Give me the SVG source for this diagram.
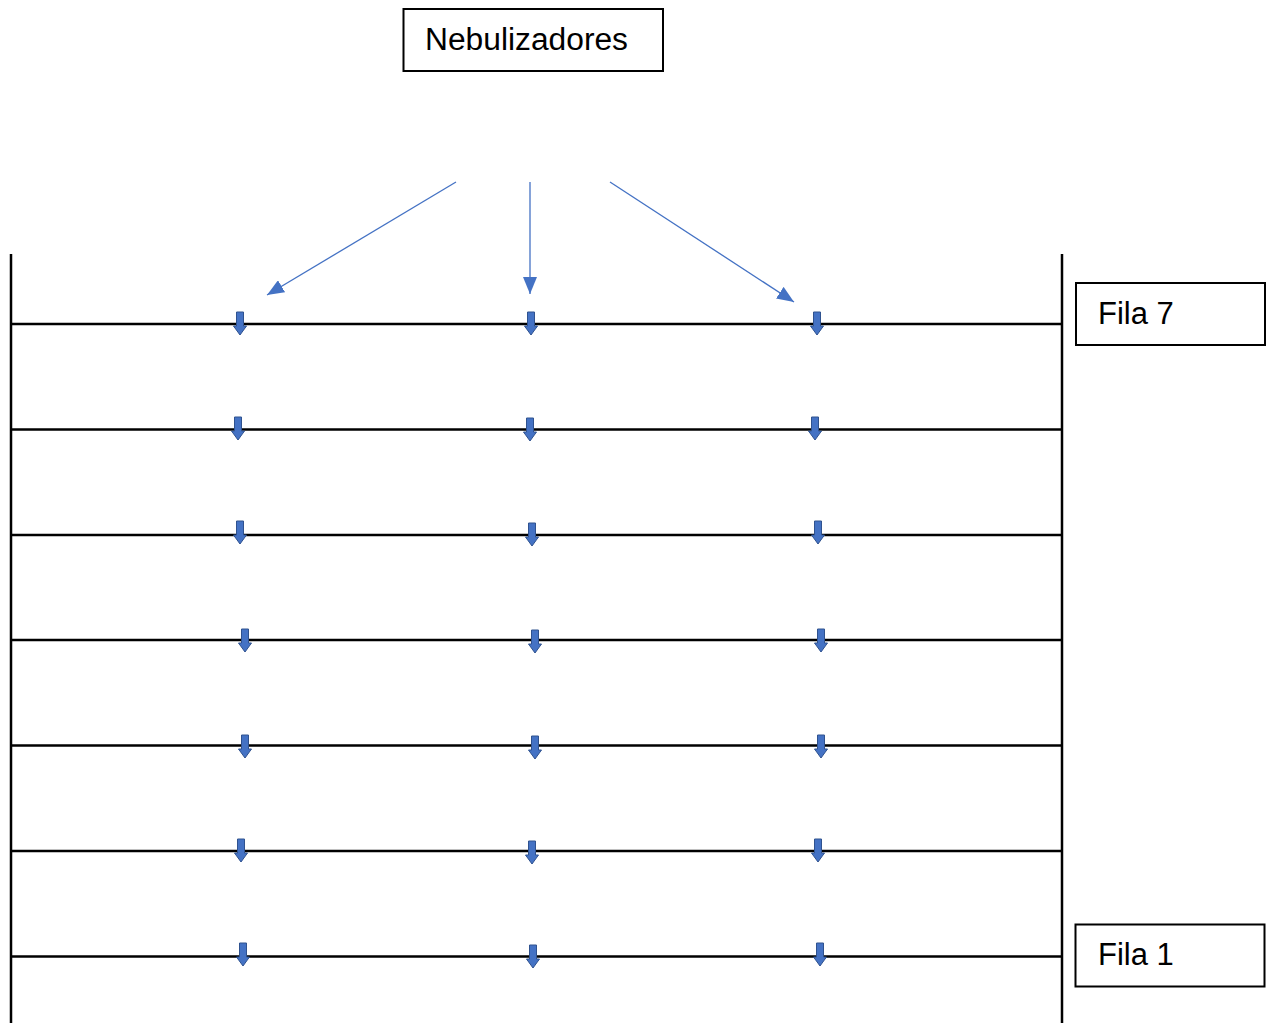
<svg xmlns="http://www.w3.org/2000/svg" width="1272" height="1023" viewBox="0 0 1272 1023">
<style>
.box{fill:#fff;stroke:#000;stroke-width:2}
.lbl{font-family:"Liberation Sans",Arial,sans-serif;font-size:31px;fill:#000}
.wall{stroke:#000;stroke-width:2.5;fill:none}
.row{stroke:#000;stroke-width:2.5;fill:none}
.conn{stroke:#4472C4;stroke-width:1.3;fill:none;marker-end:url(#ah)}
.drop{fill:#4472C4;stroke:#2F528F;stroke-width:1}
</style>
<defs>
<marker id="ah" markerUnits="userSpaceOnUse" markerWidth="18" markerHeight="14" refX="17" refY="7" orient="auto">
<path d="M0,0 L17,7 L0,14 z" fill="#4472C4"/>
</marker>
<path id="blk" d="M-3.5,-12 L3.5,-12 L3.5,2 L6.5,2 L0,11 L-6.5,2 L-3.5,2 z"/>
</defs>
<rect width="1272" height="1023" fill="#fff"/>
<g id="structure">
<line class="wall" x1="11" y1="254" x2="11" y2="1023"/>
<line class="wall" x1="1062" y1="254" x2="1062" y2="1023"/>
<line class="row" x1="11" y1="324" x2="1062" y2="324"/>
<line class="row" x1="11" y1="429.5" x2="1062" y2="429.5"/>
<line class="row" x1="11" y1="535" x2="1062" y2="535"/>
<line class="row" x1="11" y1="640" x2="1062" y2="640"/>
<line class="row" x1="11" y1="745.5" x2="1062" y2="745.5"/>
<line class="row" x1="11" y1="851" x2="1062" y2="851"/>
<line class="row" x1="11" y1="956.5" x2="1062" y2="956.5"/>
</g>
<g id="drops">
<use href="#blk" class="drop" x="240" y="324"/>
<use href="#blk" class="drop" x="531" y="324"/>
<use href="#blk" class="drop" x="817" y="324"/>
<use href="#blk" class="drop" x="238" y="429"/>
<use href="#blk" class="drop" x="530" y="430"/>
<use href="#blk" class="drop" x="815" y="429"/>
<use href="#blk" class="drop" x="240" y="533"/>
<use href="#blk" class="drop" x="532" y="535"/>
<use href="#blk" class="drop" x="818" y="533"/>
<use href="#blk" class="drop" x="245" y="641"/>
<use href="#blk" class="drop" x="535" y="642"/>
<use href="#blk" class="drop" x="821" y="641"/>
<use href="#blk" class="drop" x="245" y="747"/>
<use href="#blk" class="drop" x="535" y="748"/>
<use href="#blk" class="drop" x="821" y="747"/>
<use href="#blk" class="drop" x="241" y="851"/>
<use href="#blk" class="drop" x="532" y="853"/>
<use href="#blk" class="drop" x="818" y="851"/>
<use href="#blk" class="drop" x="243" y="955"/>
<use href="#blk" class="drop" x="533" y="957"/>
<use href="#blk" class="drop" x="820" y="955"/>
</g>
<g id="connectors">
<line class="conn" x1="456" y1="182" x2="267" y2="295"/>
<line class="conn" x1="530" y1="182" x2="530" y2="294"/>
<line class="conn" x1="610" y1="182" x2="794" y2="302"/>
</g>
<g id="nebulizadores">
<rect class="box" x="403.5" y="9" width="259.5" height="62"/>
<text class="lbl" x="425" y="50" textLength="203" lengthAdjust="spacingAndGlyphs">Nebulizadores</text>
</g>
<g id="fila7">
<rect class="box" x="1076" y="283" width="189" height="62"/>
<text class="lbl" x="1098" y="324">Fila 7</text>
</g>
<g id="fila1">
<rect class="box" x="1075.5" y="924.5" width="189" height="62"/>
<text class="lbl" x="1098" y="965">Fila 1</text>
</g>
</svg>
